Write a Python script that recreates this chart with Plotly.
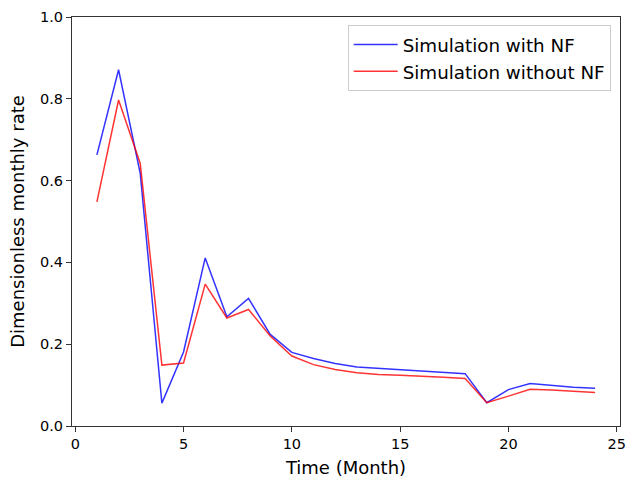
import plotly.graph_objects as go

months = list(range(1, 25))
with_nf = [0.663, 0.871, 0.618, 0.056, 0.181, 0.411, 0.267, 0.312, 0.224, 0.180,
           0.165, 0.153, 0.144, 0.141, 0.138, 0.135, 0.132, 0.128, 0.057, 0.089,
           0.104, 0.099, 0.095, 0.092]
without_nf = [0.548, 0.797, 0.642, 0.149, 0.154, 0.347, 0.264, 0.285, 0.220, 0.171,
              0.150, 0.138, 0.130, 0.126, 0.124, 0.122, 0.119, 0.116, 0.057, 0.073,
              0.090, 0.088, 0.085, 0.082]
x_ticks = [0, 5, 10, 15, 20, 25]
y_ticks = [0.0, 0.2, 0.4, 0.6, 0.8, 1.0]
y_tick_labels = ["0.0", "0.2", "0.4", "0.6", "0.8", "1.0"]

fig = go.Figure()
fig.add_trace(go.Scatter(x=months, y=with_nf, mode="lines", name="Simulation with NF",
                         line=dict(color="rgba(0,0,255,0.8)", width=1.5)))
fig.add_trace(go.Scatter(x=months, y=without_nf, mode="lines", name="Simulation without NF",
                         line=dict(color="rgba(255,0,0,0.8)", width=1.5)))

axis_common = dict(showline=True, linecolor="#333333", linewidth=1, mirror=True,
                   ticks="outside", ticklen=5, tickwidth=1, tickcolor="#333333",
                   showgrid=False, zeroline=False, automargin=False,
                   ticklabeloverflow="allow",
                   tickfont=dict(family="DejaVu Sans", size=14.5, color="#000000"))

fig.update_layout(
    width=627, height=480,
    margin=dict(l=72, r=7, t=17, b=54),
    paper_bgcolor="white", plot_bgcolor="white",
    font=dict(family="DejaVu Sans", color="#000000"),
    xaxis=dict(range=[-0.15, 25.15], tickvals=x_ticks,
               title=dict(text="Time (Month)", font=dict(size=18), standoff=9),
               **axis_common),
    yaxis=dict(range=[0, 1.0], tickvals=y_ticks, ticktext=y_tick_labels,
               title=dict(text="Dimensionless monthly rate", font=dict(size=18), standoff=10),
               **axis_common),
    legend=dict(x=0.983, y=0.98, xanchor="right", yanchor="top", itemwidth=44,
                bgcolor="rgba(255,255,255,0.8)", bordercolor="#cccccc", borderwidth=1,
                font=dict(size=18.3, family="DejaVu Sans")),
)

fig.write_html("out.html", config={"displayModeBar": False},
               post_script="document.body.style.margin='0';document.body.style.overflow='hidden';")
